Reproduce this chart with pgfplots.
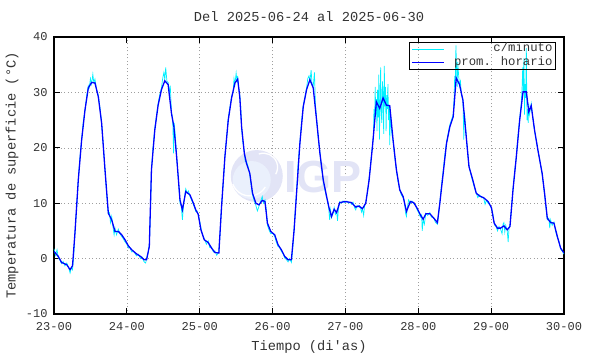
\documentclass[border=0pt]{standalone}
\usepackage{fontspec}
\setmainfont{Liberation Mono}
\newfontfamily\logofont{Liberation Sans}
\usepackage{pgfplots}
\pgfplotsset{compat=1.18}
\definecolor{logo}{RGB}{226,228,246}
\definecolor{logoin}{RGB}{234,240,252}
\definecolor{cmin}{RGB}{0,240,255}
\begin{document}
\begin{tikzpicture}
\useasboundingbox (0,0) rectangle (590pt,354pt);
\begin{axis}[
 at={(54pt,40pt)}, anchor=south west,
 scale only axis, width=510pt, height=277pt,
 xmin=0, xmax=168, ymin=-10, ymax=40,
 xtick={0,24,48,72,96,120,144,168},
 xticklabels={23-00,24-00,25-00,26-00,27-00,28-00,29-00,30-00},
 ytick={-10,0,10,20,30,40},
 yticklabels={-10,0,10,20,30,40},
 tick align=inside, major tick length=6pt,
 tick style={black, line width=0.8pt},
 axis line style={black, line width=1.2pt},
 grid=major,
 major grid style={gray!75, dash pattern=on 1pt off 2.5pt, line width=0.6pt},
 ticklabel style={font=\fontsize{12}{14}\selectfont, text=black!80},
 xticklabel style={yshift=-4.5pt},
 yticklabel style={xshift=-3pt},
 title={Del 2025-06-24 al 2025-06-30},
 title style={at={(axis description cs:0.5,1.052)}, anchor=center, font=\fontsize{13.7}{16}\selectfont, text=black!80},
 xlabel={Tiempo (di\textquotesingle as)},
 ylabel={Temperatura de superficie (°C)},
 xlabel style={at={(axis description cs:0.5,-0.118)}, anchor=center, font=\fontsize{13.7}{16}\selectfont, text=black!80},
 ylabel style={at={(axis description cs:-0.0824,0.5)}, anchor=center, font=\fontsize{13.7}{16}\selectfont, text=black!80},
 legend image code/.code={\draw[#1] (0pt,0pt) -- (32pt,0pt);},
 legend style={at={(0.984,0.982)}, anchor=north east, draw=black, line width=0.8pt, fill=none,
   inner xsep=2pt, inner ysep=0pt, row sep=0pt,
   font=\fontsize{12.3}{14}\selectfont, text=black!80,
   nodes={inner sep=1pt, text height=8.5pt, text depth=2.8pt}},
]
\fill[logo] (axis cs:66.8,14.9) circle[radius=26pt];
\fill[logoin] (axis cs:66.8,14.9) ++(-5pt,-4pt) circle[radius=19pt];
\draw[white, line width=1.3pt] (axis cs:66.8,14.9) ++(-24pt,-8pt) arc[start angle=200, end angle=330, radius=18pt];
\draw[white, line width=1.3pt] (axis cs:66.8,14.9) ++(2pt,22pt) arc[start angle=110, end angle=-30, radius=14pt];
\node[font=\logofont\bfseries\fontsize{45}{45}\selectfont, text=logo] at (axis cs:88.6,14.8) {IGP};

\addplot[cmin, line width=0.7pt] coordinates {
(0,1.8) (0.5,0.6) (1,1.6) (1.4,0.2) (2,-0.3) (2.5,-0.9) (3,-0.5) (3.6,-1.3) (4.2,-0.8) (4.8,-1.6) (5.3,-2.6) (5.7,-1.6) (6.1,-2.0) (6.5,0.5) (6.9,4.6) (7.5,9.5) (8,14.2) (8.5,18) (9.1,21.4) (9.6,24.5) (10.2,26.8) (10.8,29.5) (11.3,31.2) (11.6,30.8) (12,32.5) (12.4,31.5) (12.8,33.3) (13.1,31.8) (13.5,32.4) (14,30.5) (14.6,29.5) (15.2,27) (15.7,24.4) (16.3,20) (16.8,16.0) (17.3,12) (17.9,8.0) (18.3,8.3) (18.6,6.5) (19.0,7.6) (19.4,5.8) (19.8,4.3) (20.1,5.5) (20.6,4.3) (21.2,5.3) (21.7,4.5) (22.3,4.0) (22.8,3.6) (23.4,3.0) (24,2.6) (24.5,1.9) (25,2.0) (25.6,1.2) (26.2,1.3) (27.2,0.5) (27.8,0.8) (28.5,0.0) (29,0.3) (29.7,-0.6) (30.2,-0.8) (30.5,0.1) (31,1.0) (31.4,2.5) (31.8,9) (32.1,16.0) (32.6,20) (33.2,23.5) (33.8,26) (34.3,28) (34.8,29.5) (35.4,30.8) (35.8,32.5) (36.2,33.6) (36.5,32.3) (36.8,34.5) (37.2,32.0) (37.6,31.8) (38,30) (38.3,31.2) (38.7,26.5) (39.1,25) (39.4,19) (39.6,24.5) (40,22) (40.4,18.4) (41,14) (41.5,10.0) (41.9,9.5) (42.3,7.0) (42.7,9.8) (43.1,11.5) (43.4,12.6) (43.9,11.8) (44.3,12.2) (44.8,11.2) (45.3,10.6) (45.9,9.8) (46.3,9.2) (46.7,8.5) (47.1,8.6) (47.5,8.0) (48,6.8) (48.6,5.0) (49,4.2)
(49.5,3.6) (50.2,2.6) (50.8,3.2) (51.3,2.0) (51.9,2.1) (52.5,1.2) (53.0,1.4) (53.6,0.6) (54.3,1.2) (54.7,4.5) (55.2,9.6) (55.8,14) (56.3,18.6) (56.9,22) (57.4,25.3) (58,27.5) (58.5,29.3) (59,30.0) (59.3,32.5) (59.6,31.5) (60.0,33.5) (60.3,31.8) (60.5,33.0) (60.8,31) (61.2,29.5) (61.5,27.5) (61.7,25) (61.8,23.5) (62.2,21) (62.7,19.3) (63,17.5) (63.4,17.6) (64,16.5) (64.5,15.2) (65,13) (65.4,11.5) (65.9,10.5) (66.5,9.6) (67,8.6) (67.5,9.4) (68.1,10.4) (68.6,11.2) (69.0,10.0) (69.5,10.6) (70,8.5) (70.3,6.0) (70.8,5.2) (71.4,4.5) (72,4.6) (72.7,4.0) (73.2,3.0) (73.8,2.2) (74.3,2.0) (74.9,1.3) (75.5,0.8) (76.0,0.1) (76.6,-0.2) (77.1,-0.6) (77.6,0.0) (78.2,-0.7) (78.6,1.5) (79.1,5.5) (79.5,9) (79.9,12) (80.4,17) (81.0,21) (81.5,24.5) (82.1,27.7) (82.6,29) (83.2,30.8) (83.6,32.5) (84.0,33.0) (84.3,32.0) (84.7,34.0) (85.0,31.5) (85.4,31.2) (85.8,33.6) (86.1,28) (86.5,25.3) (87,22) (87.6,19.2) (88.1,16.5) (88.7,14.0) (89.2,12.5) (89.8,11.0) (90.2,10.3) (90.5,9.0) (90.8,7.0) (91.1,8.8) (91.4,7.4) (91.8,8.0) (92.3,9.2) (92.7,8.0) (93.1,8.5) (93.4,6.8) (93.7,9.0) (94.1,10.3) (94.6,10.0) (95.2,10.4) (95.8,10.1) (96.5,10.4) (97.1,10.0) (97.6,10.2) (98.0,9.8) (98.5,10.2) (99.0,9.2) (99.4,8.8) (99.8,9.6) (100.5,9.3) (101,9.1) (101.3,8.4) (101.6,9.0) (102,7.8) (102.3,9.5) (102.7,10.2) (103.3,12.0) (103.8,14.5) (104.3,17.0) (104.6,19.0) (104.9,20.5)
(105.2,22) (105.4,27) (105.6,24.5) (105.8,31) (106.0,26) (106.2,28.8) (106.4,23) (106.6,30.5) (106.8,25.5) (107.0,33.2) (107.2,21.5) (107.4,28) (107.6,34.5) (107.8,26) (108.0,24.5) (108.2,32.0) (108.4,29.5) (108.6,22.5) (108.8,34.8) (109.0,27.5) (109.2,31.0) (109.4,23.0) (109.6,29.5) (109.8,27.0) (110.0,31.5) (110.2,25.0) (110.4,27.8) (110.6,20.5) (110.8,27.0) (111.0,24.0) (111.3,22.5) (111.7,21.2) (112.2,18.5) (112.8,16.0) (113.3,14.0) (113.9,12.5) (114.4,11.5) (115.0,11.0) (115.4,10.6) (115.8,8.2) (116.1,7.6) (116.4,9.2) (116.8,10.6) (117.4,10.0) (117.9,10.4) (118.5,9.9) (119.0,9.8) (119.6,8.8) (120.0,8.4) (120.7,7.5) (121.1,7.9) (121.3,5.0) (121.6,7.0) (122,6.2) (122.5,8.2) (123.1,7.8) (123.8,8.3) (124.3,7.5) (125.1,7.4) (125.6,6.6) (126.3,6.2) (126.7,8.0) (127.1,10.2) (127.6,13) (128.2,15.8) (128.7,18.5) (129.3,21) (129.8,22.5) (130.4,24.2) (130.9,25.0) (131.5,26) (131.8,29) (132.0,33) (132.2,31.5) (132.4,38.5) (132.6,34.5) (132.8,31.0) (133.0,35.5) (133.3,33.0) (133.6,31.2) (133.9,32.0) (134.2,29.5) (134.7,28.8) (135.0,21.5) (135.2,26.5) (135.6,23.5) (136.1,20.0) (136.7,16.8) (137.2,15.5) (137.8,14.2) (138.4,13.0) (139.1,11.8) (139.6,11.0) (140.2,11.5) (140.8,11.0) (141.5,11.0) (142.0,9.8) (142.4,10.5) (143.0,10.0) (143.5,9.8) (144.1,9.0) (144.5,8.3) (144.8,7.0) (145.2,6.0) (145.6,5.8) (146.1,5.0) (146.6,5.8) (147.1,5.3) (147.6,4.5) (147.9,6.2) (148.2,6.5) (148.5,4.8) (148.8,6.0) (149.3,5.0) (149.6,3.0) (149.9,5.5) (150.2,6.0) (150.7,9.0) (151.2,12.6) (151.7,15.5) (152.3,18.5) (152.8,22) (153.4,25.2) (153.9,28) (154.2,31.0) (154.4,34.5) (154.6,30.0) (154.8,36.2) (155.0,26.0) (155.2,31.5) (155.4,29.0) (155.6,38.0) (155.8,25.0) (156.0,27.0) (156.2,24.5) (156.4,28.0) (156.6,26.0) (156.8,26.6) (157.2,28.0) (157.7,25.5) (158.3,23.0) (158.8,21.5) (159.4,19.6) (160.1,17.5) (160.8,15.2) (161.2,13.5) (161.6,11.5) (162.0,9.5) (162.5,7.0) (163.0,7.3) (163.3,5.5) (163.6,7.0) (164.1,6.0) (164.7,6.6) (165.2,5.0) (165.8,3.8) (166.3,3.2) (166.9,1.7) (167.5,1.3) (168.0,0.8)
};
\addlegendentry{\makebox[107pt][r]{c/minuto}}

\addplot[blue, line width=1.3pt] coordinates {
(0,1.3) (1.4,0.4) (2.5,-0.7) (4.2,-1.1) (5.3,-2.0) (6.1,-1.3) (6.9,4.6) (8.0,14.2) (9.1,21.4) (10.2,26.8) (11.3,30.8) (12.4,31.8) (13.5,31.7) (14.6,29.2) (15.7,24.4) (16.8,16.0) (17.9,8.2) (19.0,7.0) (20.1,4.9) (21.2,4.9) (22.3,4.3) (23.4,3.4)
(24.5,2.3) (25.6,1.6) (27.2,0.85) (28.5,0.4) (29.7,-0.2) (30.5,-0.2) (31.4,2.2) (32.1,16.0) (33.2,23.2) (34.3,27.7) (35.4,30.5) (36.5,32.1) (37.6,31.4) (38.7,26.2) (39.5,23.8) (40.4,18.4) (41.5,10.6) (42.3,8.8) (43.4,12.1) (44.8,11.5) (45.9,10.0) (46.7,8.8) (47.5,8.0)
(48.4,5.2) (49.5,3.4) (50.8,2.9) (51.9,1.9) (53.0,1.1) (54.3,1.0) (55.2,9.4) (56.3,18.4) (57.4,25.0) (58.5,29.0) (59.6,31.7) (60.5,32.4) (61.2,29.2) (61.8,23.8) (62.7,19.0) (63.4,17.2) (64.5,15.4) (65.4,11.8) (66.5,10.0) (67.5,9.7) (68.6,10.5) (69.5,10.3) (70.3,6.4) (71.4,4.9)
(72.7,4.3) (73.8,2.5) (74.9,1.6) (76.0,0.4) (77.1,-0.2) (78.2,-0.2) (79.1,5.2) (79.9,11.8) (81.0,20.8) (82.1,27.4) (83.2,30.5) (84.3,32.3) (85.4,30.8) (86.5,25.0) (87.6,19.0) (88.7,14.2) (89.8,11.2) (90.5,9.4) (91.4,7.6) (92.3,8.9) (93.1,8.3) (94.1,10.1) (95.8,10.3)
(97.1,10.2) (98.0,10.1) (99.4,9.3) (100.5,9.5) (101.6,9.0) (102.7,10.0) (103.8,14.2) (104.9,20.2) (106.2,28.3) (107.3,27.1) (108.4,29.0) (109.5,27.7) (110.6,27.6) (111.7,21.4) (112.8,16.0) (113.9,12.4) (115.0,11.2) (116.1,8.5) (117.4,10.3) (118.5,10.1) (119.6,9.1)
(120.7,7.9) (121.6,7.1) (122.5,8.1) (123.8,8.1) (125.1,7.3) (126.3,6.5) (127.1,10.0) (128.2,15.4) (129.3,20.8) (130.4,23.8) (131.5,25.6) (132.5,32.6) (133.6,31.4) (134.7,28.6) (135.6,23.2) (136.7,16.6) (137.8,14.5) (139.1,11.8) (140.2,11.3) (141.5,11.0) (143.0,10.3)
(144.1,9.2) (145.0,6.4) (146.1,5.5) (147.1,5.5) (148.2,5.9) (149.3,5.2) (150.2,5.8) (151.2,12.4) (152.3,18.4) (153.4,25.0) (154.5,30.1) (155.6,30.1) (156.4,26.5) (157.2,27.6) (158.3,23.2) (159.4,19.6) (160.8,15.4) (161.6,11.8) (162.5,7.3) (163.6,6.5) (164.7,6.4) (165.8,4.0) (166.9,1.9) (168.0,1.0)
};
\addlegendentry{\makebox[107pt][r]{prom. horario}}
\end{axis}
\end{tikzpicture}
\end{document}
